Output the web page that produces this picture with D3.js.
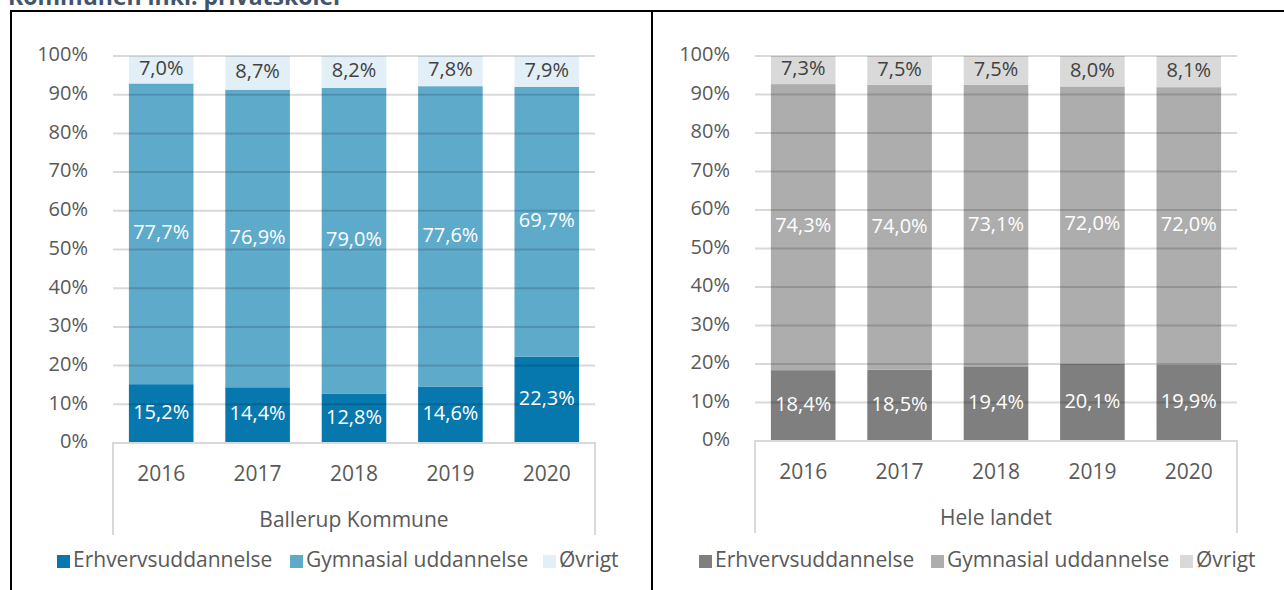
<!DOCTYPE html>
<html>
<head>
<meta charset="utf-8">
<script src="https://cdn.jsdelivr.net/npm/d3@7"></script>
<style>
  body { margin: 0; background: #fff; }
  svg { display: block; font-family: "Open Sans", Lato, sans-serif; }
</style>
</head>
<body>
<svg id="chart" width="1284" height="590"></svg>
<script>
// data (percent)
const years = ["2016", "2017", "2018", "2019", "2020"];
const seriesNames = ["Erhvervsuddannelse", "Gymnasial uddannelse", "Øvrigt"];

const ballerupErhverv = [15.2, 14.4, 12.8, 14.6, 22.3];
const ballerupGymnasial = [77.7, 76.9, 79.0, 77.6, 69.7];
const ballerupOevrigt = [7.0, 8.7, 8.2, 7.8, 7.9];

const landetErhverv = [18.4, 18.5, 19.4, 20.1, 19.9];
const landetGymnasial = [74.3, 74.0, 73.1, 72.0, 72.0];
const landetOevrigt = [7.3, 7.5, 7.5, 8.0, 8.1];

const yTicks = [0, 10, 20, 30, 40, 50, 60, 70, 80, 90, 100];

const fs = 21;
const svg = d3.select("#chart");

// title, mostly cut off at the top edge like in the original
svg.append("text")
  .attr("x", 8).attr("y", 5)
  .attr("font-size", 23).attr("font-weight", "bold")
  .attr("fill", "#44546a")
  .text("Kommunen inkl. privatskoler");

// panel frame
svg.append("path")
  .attr("d", "M11,600 V11 H1290 M652,11 V600")
  .attr("fill", "none").attr("stroke", "#000").attr("stroke-width", 2);

function drawPanel(opts) {
  const g = svg.append("g");
  const x = d3.scaleBand().domain(years).range([opts.left, opts.right]).paddingInner(0.33).paddingOuter(0.165);
  const y = d3.scaleLinear().domain([0, 100]).range([opts.bottom, 56]);

  const rows = years.map((yr, i) => ({
    year: yr,
    "Erhvervsuddannelse": opts.values[0][i],
    "Gymnasial uddannelse": opts.values[1][i],
    "Øvrigt": opts.values[2][i]
  }));
  const stacked = d3.stack().keys(seriesNames)(rows);

  // y tick labels
  g.selectAll(".ylab").data(yTicks).enter().append("text")
    .attr("x", opts.left - 25).attr("y", d => y(d))
    .attr("text-anchor", "end").attr("dominant-baseline", "middle")
    .attr("font-size", 20).attr("fill", "#595959")
    .text(d => d + "%");

  // bars
  stacked.forEach((s, si) => {
    g.selectAll(null).data(s).enter().append("rect")
      .attr("x", d => x(d.data.year))
      .attr("width", x.bandwidth())
      .attr("y", d => y(Math.min(d[1], 100)))
      .attr("height", d => y(d[0]) - y(Math.min(d[1], 100)))
      .attr("fill", opts.colors[si]);
  });

  // gridlines on top, faint so they show through the bars
  g.selectAll(".grid").data(yTicks.slice(1)).enter().append("line")
    .attr("x1", opts.left).attr("x2", opts.right)
    .attr("y1", d => y(d)).attr("y2", d => y(d))
    .attr("stroke", "#000").attr("stroke-opacity", 0.15).attr("stroke-width", 2);

  // category axis box
  g.append("path")
    .attr("d", `M${opts.left},${opts.bottom + 92} V${opts.bottom} H${opts.right} V${opts.bottom + 92}`)
    .attr("fill", "none").attr("stroke", "#d9d9d9").attr("stroke-width", 2);

  // data labels
  stacked.forEach((s, si) => {
    g.selectAll(null).data(s).enter().append("text")
      .attr("x", d => x(d.data.year) + x.bandwidth() / 2)
      .attr("y", d => y((d[0] + Math.min(d[1], 100)) / 2))
      .attr("text-anchor", "middle").attr("dominant-baseline", "middle")
      .attr("font-size", 20)
      .attr("fill", si === 2 ? "#404040" : "#fff")
      .text(d => d3.format(".1f")(d[1] - d[0]).replace(".", ",") + "%");
  });

  // year labels
  g.selectAll(".xlab").data(years).enter().append("text")
    .attr("x", d => x(d) + x.bandwidth() / 2).attr("y", opts.bottom + 32)
    .attr("text-anchor", "middle").attr("dominant-baseline", "middle")
    .attr("font-size", fs).attr("fill", "#595959")
    .text(d => d);

  g.append("text")
    .attr("x", (opts.left + opts.right) / 2).attr("y", opts.bottom + 78)
    .attr("text-anchor", "middle").attr("dominant-baseline", "middle")
    .attr("font-size", fs).attr("fill", "#595959")
    .text(opts.group);

  // legend
  const leg = g.selectAll(".leg").data(seriesNames).enter().append("g")
    .attr("transform", (d, i) => `translate(${opts.legendX[i]},561)`);
  leg.append("rect")
    .attr("x", 0).attr("y", -6).attr("width", 13).attr("height", 13)
    .attr("fill", (d, i) => opts.colors[i]);
  leg.append("text")
    .attr("x", 16).attr("y", 0)
    .attr("dominant-baseline", "middle")
    .attr("font-size", fs).attr("fill", "#595959")
    .text(d => d);
}

drawPanel({
  left: 113, right: 595, bottom: 443,
  values: [ballerupErhverv, ballerupGymnasial, ballerupOevrigt],
  colors: ["#0778ae", "#5eaacb", "#e2eff7"],
  group: "Ballerup Kommune",
  legendX: [57, 290, 543]
});

drawPanel({
  left: 755, right: 1237, bottom: 441,
  values: [landetErhverv, landetGymnasial, landetOevrigt],
  colors: ["#7f7f7f", "#adadad", "#d9d9d9"],
  group: "Hele landet",
  legendX: [699, 931, 1180]
});
</script>
</body>
</html>
